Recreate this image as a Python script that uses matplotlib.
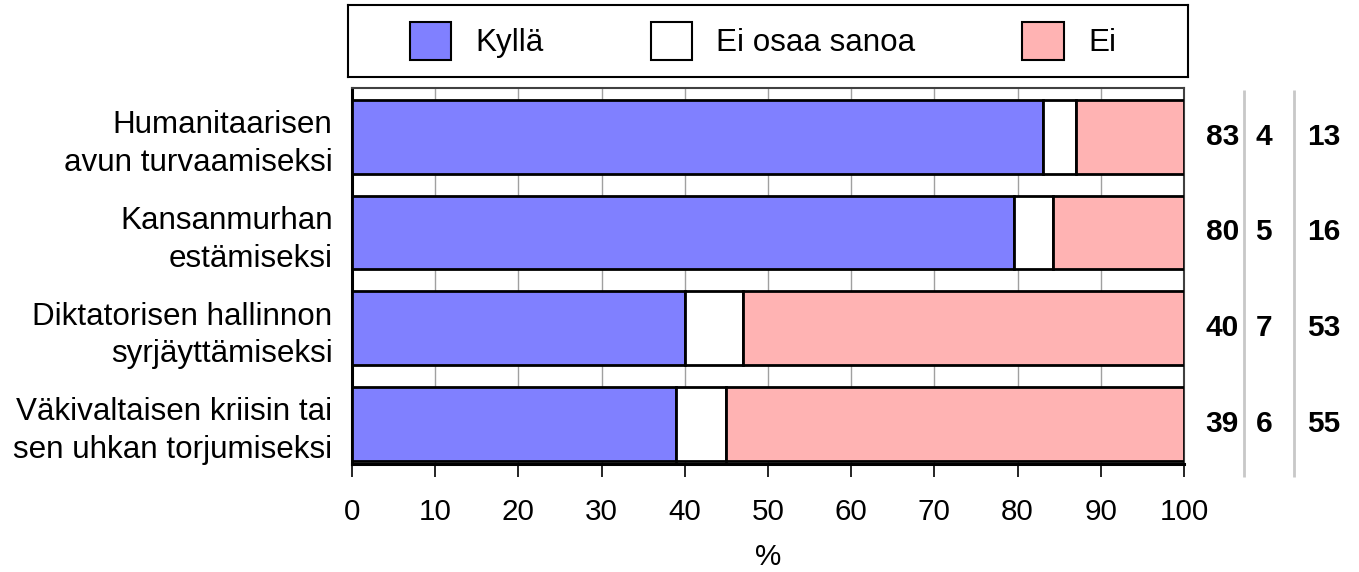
import matplotlib
matplotlib.use("Agg")
import matplotlib.pyplot as plt
from matplotlib.patches import Patch
from matplotlib.transforms import blended_transform_factory

plt.rcParams['font.family'] = ['Liberation Sans', 'DejaVu Sans']

categories = [
    "Humanitaarisen\navun turvaamiseksi",
    "Kansanmurhan\nestämiseksi",
    "Diktatorisen hallinnon\nsyrjäyttämiseksi",
    "Väkivaltaisen kriisin tai\nsen uhkan torjumiseksi",
]
series_names = ["Kyllä", "Ei osaa sanoa", "Ei"]
kylla = [83.0, 79.6, 40.0, 39.0]
eos = [4.0, 4.6, 7.0, 6.0]
ei = [13.0, 15.8, 53.0, 55.0]
xticks = [0, 10, 20, 30, 40, 50, 60, 70, 80, 90, 100]
colors = ["#8080ff", "#ffffff", "#ffb3b3"]

W, H = 1359, 572
fig = plt.figure(figsize=(W / 100, H / 100), dpi=100)

def fx(px):
    return px / W

def fy(py):
    return 1 - py / H

ax = fig.add_axes([fx(352), fy(464), fx(1184) - fx(352), fy(88) - fy(464)])

y = list(range(len(categories)))
left = [0.0] * len(categories)
for vals, col, name in zip([kylla, eos, ei], colors, series_names):
    ax.barh(y, vals, left=left, height=0.77, color=col, edgecolor="black",
            linewidth=2.0, zorder=3, label=name)
    left = [l + v for l, v in zip(left, vals)]

ax.set_xlim(0, 100)
ax.set_ylim(3.42, -0.51)
ax.set_xticks(xticks)
ax.set_xticklabels([str(t) for t in xticks], fontsize=21.3)
ax.set_yticks(y)
ax.set_yticklabels(categories, fontsize=22.6, linespacing=1.33)
ax.tick_params(axis="y", length=0, pad=14)
ax.tick_params(axis="x", length=9.4, width=1.2, pad=15, color="black")
ax.xaxis.grid(True, color="#a0a0a0", linewidth=1.0, zorder=0)
ax.set_axisbelow(True)
for s in ["left", "bottom"]:
    ax.spines[s].set_linewidth(2.2)
    ax.spines[s].set_color("black")
for s in ["top", "right"]:
    ax.spines[s].set_linewidth(1.5)
    ax.spines[s].set_color("#404040")
ax.set_xlabel("%", fontsize=21.3, labelpad=12)

# right-hand value columns
col_x = [104.6, 109.6, 116.8]
for i in range(len(categories)):
    for cx, vals in zip(col_x, [kylla, eos, ei]):
        ax.text(cx, y[i], f"{round(vals[i])}", ha="center", va="center",
                fontsize=21.5, fontweight="bold", clip_on=False)
trl = blended_transform_factory(ax.transData, ax.transAxes)
for lx in [107.2, 113.2]:
    ax.plot([lx, lx], [0.995, -0.035], transform=trl, color="#c8c8c8",
            linewidth=2.0, clip_on=False, solid_capstyle="butt")

# legend box
lax = fig.add_axes([fx(348), fy(77), fx(1188) - fx(348), fy(5) - fy(77)])
lax.set_xticks([])
lax.set_yticks([])
for s in lax.spines.values():
    s.set_linewidth(1.5)
    s.set_color("black")
handles = [Patch(facecolor=c, edgecolor="black", linewidth=1.5) for c in colors]
leg = lax.legend(handles, series_names, loc="center", ncol=3, frameon=False,
                 fontsize=22.6, handlelength=1.32, handleheight=1.5,
                 handletextpad=0.78, columnspacing=3.4,
                 bbox_to_anchor=(0.494, 0.5))

fig.savefig("out.png", dpi=100)
